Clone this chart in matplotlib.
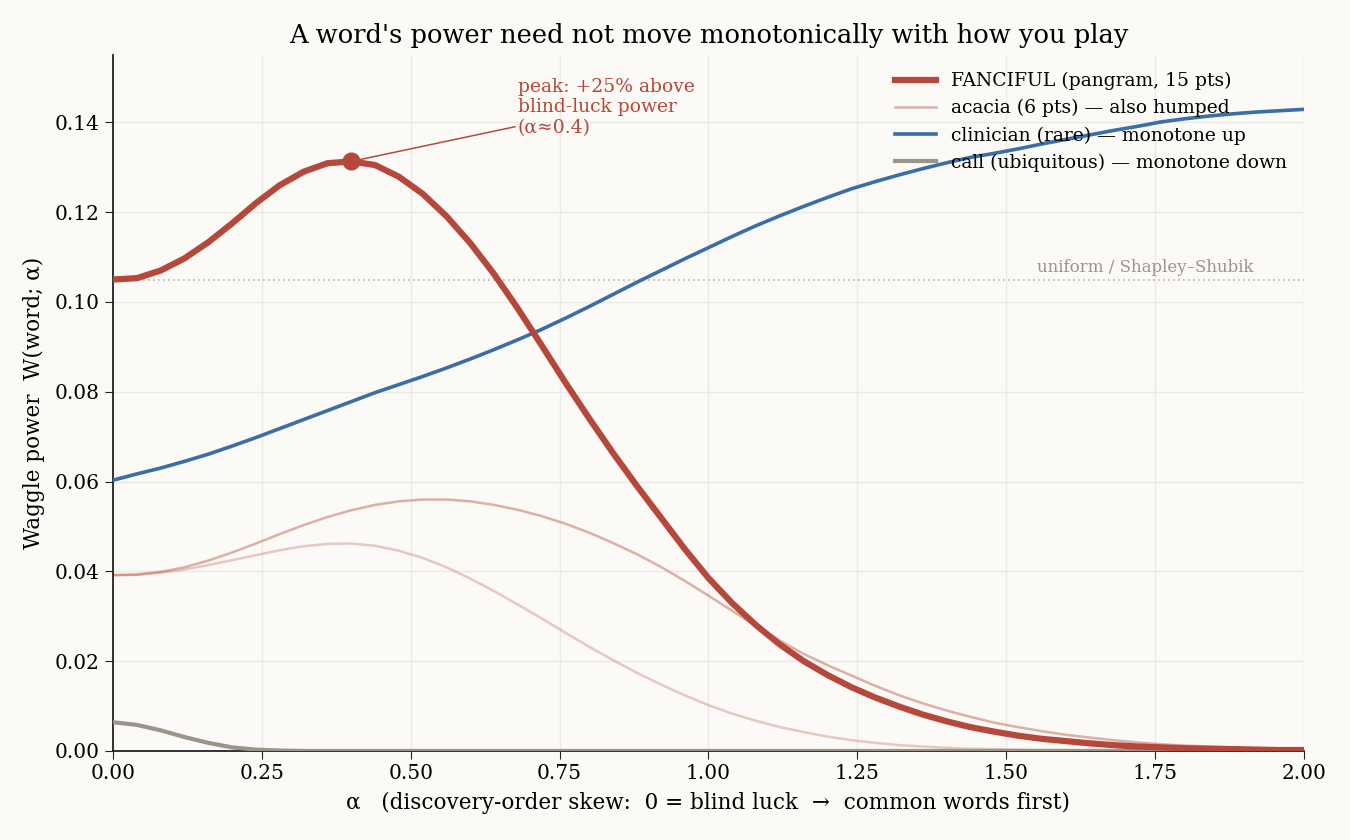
import numpy as np
import matplotlib
matplotlib.use("Agg")
import matplotlib.pyplot as plt

# discovery-order skew grid (step 0.04)
alpha = np.round(np.arange(51) * 0.04, 2)

fanciful = [
    0.1050, 0.1053, 0.1070, 0.1097, 0.1133, 0.1175, 0.1220, 0.1260, 0.1290, 0.1309,
    0.1313, 0.1305, 0.1279, 0.1241, 0.1191, 0.1131, 0.1062, 0.0985, 0.0903, 0.0820,
    0.0740, 0.0663, 0.0590, 0.0520, 0.0450, 0.0385, 0.0329, 0.0280, 0.0237, 0.0200,
    0.0169, 0.0142, 0.0119, 0.0099, 0.0081, 0.0066, 0.0053, 0.0043, 0.0034, 0.0027,
    0.0022, 0.0017, 0.0013, 0.0010, 0.0008, 0.0006, 0.0005, 0.0004, 0.0003, 0.0002,
    0.0002,
]
acacia = [
    0.0392, 0.0393, 0.0399, 0.0409, 0.0424, 0.0442, 0.0462, 0.0483, 0.0503, 0.0521,
    0.0536, 0.0548, 0.0556, 0.0560, 0.0560, 0.0556, 0.0548, 0.0537, 0.0523, 0.0506,
    0.0486, 0.0463, 0.0438, 0.0410, 0.0379, 0.0346, 0.0312, 0.0278, 0.0246, 0.0216,
    0.0191, 0.0168, 0.0145, 0.0124, 0.0106, 0.0090, 0.0076, 0.0063, 0.0053, 0.0044,
    0.0036, 0.0030, 0.0024, 0.0019, 0.0015, 0.0012, 0.0010, 0.0008, 0.0006, 0.0005,
    0.0004,
]
acacia_alt = [
    0.0391, 0.0392, 0.0397, 0.0404, 0.0414, 0.0425, 0.0436, 0.0447, 0.0456, 0.0461,
    0.0462, 0.0457, 0.0446, 0.0430, 0.0409, 0.0384, 0.0356, 0.0326, 0.0295, 0.0263,
    0.0232, 0.0202, 0.0174, 0.0148, 0.0124, 0.0102, 0.0083, 0.0067, 0.0053, 0.0042,
    0.0032, 0.0024, 0.0018, 0.0013, 0.0010, 0.0007, 0.0005, 0.0004, 0.0003, 0.0002,
    0.0002, 0.0001, 0.0001, 0.0001, 0.0001, 0.0000, 0.0000, 0.0000, 0.0000, 0.0000,
    0.0000,
]
clinician = [
    0.0603, 0.0617, 0.0630, 0.0645, 0.0661, 0.0679, 0.0698, 0.0718, 0.0738, 0.0758,
    0.0778, 0.0798, 0.0816, 0.0834, 0.0853, 0.0873, 0.0894, 0.0916, 0.0939, 0.0964,
    0.0990, 0.1017, 0.1044, 0.1070, 0.1096, 0.1121, 0.1146, 0.1170, 0.1192, 0.1213,
    0.1233, 0.1252, 0.1268, 0.1283, 0.1297, 0.1310, 0.1322, 0.1331, 0.1341, 0.1352,
    0.1362, 0.1372, 0.1382, 0.1391, 0.1401, 0.1408, 0.1414, 0.1419, 0.1423, 0.1426,
    0.1429,
]
call = [
    0.0064, 0.0058, 0.0046, 0.0031, 0.0018, 0.0008, 0.0003, 0.0001, 0.0000, 0.0000,
] + [0.0] * 41

uniform_power = 0.105
peak_alpha = 0.40
peak_value = 0.1313

RED = "#b5483a"
BLUE = "#3a6ea8"
GREY = "#9a958b"
BG = "#fbfaf6"

plt.rcParams["font.family"] = ["DejaVu Serif"]

fig = plt.figure(figsize=(13.5, 8.4), dpi=100, facecolor=BG)
ax = fig.add_axes([0.0837, 0.106, 0.8822, 0.8285])
ax.set_facecolor(BG)

ax.axhline(uniform_power, color="#b5b2ab", lw=1.2, ls=(0, (1, 2)), zorder=1)
ax.text(1.915, uniform_power + 0.0008, "uniform / Shapley\u2013Shubik", color=GREY,
        fontsize=12, ha="right", va="bottom")

ax.plot(alpha, acacia_alt, color=RED, lw=1.8, alpha=0.28, zorder=2)
ax.plot(alpha, acacia, color=RED, lw=1.8, alpha=0.42, zorder=2,
        label="acacia (6 pts) \u2014 also humped")
ax.plot(alpha, clinician, color=BLUE, lw=2.6, zorder=3,
        label="clinician (rare) \u2014 monotone up")
ax.plot(alpha, call, color=GREY, lw=3, zorder=3,
        label="call (ubiquitous) \u2014 monotone down")
ax.plot(alpha, fanciful, color=RED, lw=4.5, zorder=4,
        label="FANCIFUL (pangram, 15 pts)")
ax.plot([peak_alpha], [peak_value], "o", color=RED, ms=12, zorder=5)

ax.annotate("peak: +25% above\nblind-luck power\n(\u03b1\u22480.4)",
            xy=(peak_alpha, peak_value), xytext=(0.68, 0.1367),
            color=RED, fontsize=13.5, ha="left", va="bottom",
            arrowprops=dict(arrowstyle="-", color=RED, lw=1.1, shrinkA=0, shrinkB=0))

handles, labels = ax.get_legend_handles_labels()
order = [3, 0, 1, 2]
leg = ax.legend([handles[i] for i in order], [labels[i] for i in order],
                loc="upper right", bbox_to_anchor=(1.0, 1.0), frameon=False,
                fontsize=13.5, handlelength=2.2, labelspacing=0.48)

ax.set_xlim(0, 2.0)
ax.set_ylim(0, 0.155)
ax.set_xticks(np.arange(0, 2.01, 0.25))
ax.set_xticklabels([f"{v:.2f}" for v in np.arange(0, 2.01, 0.25)])
ax.set_yticks(np.arange(0, 0.141, 0.02))
ax.set_yticklabels([f"{v:.2f}" for v in np.arange(0, 0.141, 0.02)])
ax.tick_params(labelsize=14.5, length=6, color="#222222")
ax.grid(True, color="#eceae4", lw=1.0)
ax.set_axisbelow(True)
for side in ("top", "right"):
    ax.spines[side].set_visible(False)
for side in ("left", "bottom"):
    ax.spines[side].set_color("#222222")
    ax.spines[side].set_linewidth(1.3)

ax.set_xlabel("\u03b1   (discovery-order skew:  0 = blind luck  \u2192  common words first)",
              fontsize=15.5, labelpad=6)
ax.set_ylabel("Waggle power  W(word; \u03b1)", fontsize=15.5, labelpad=7)
ax.set_title("A word's power need not move monotonically with how you play",
             fontsize=18.5, pad=9)

fig.savefig("out.png", dpi=100, facecolor=BG)
